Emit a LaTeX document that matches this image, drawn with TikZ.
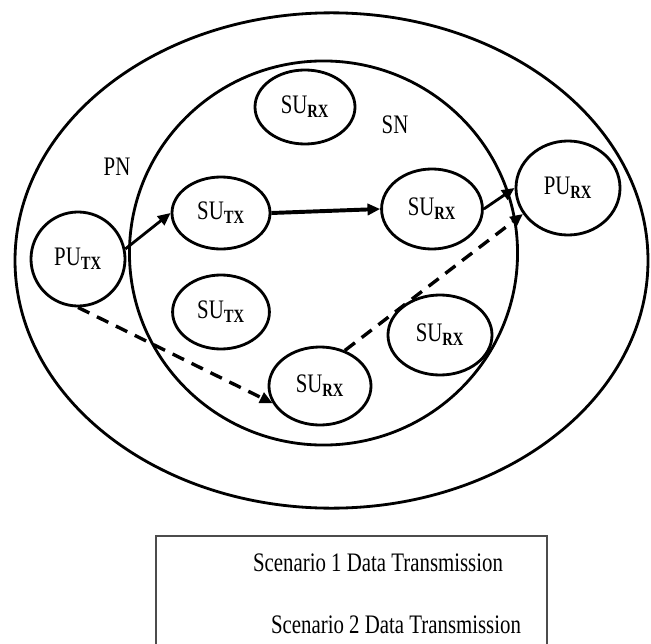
\documentclass[tikz,border=0pt]{standalone}
\usepackage{fontspec}
\setmainfont{Liberation Serif}[FakeStretch=0.78]
\usetikzlibrary{shapes.geometric,arrows.meta}

\newcommand{\lowtag}[1]{\textsubscript{\textbf{#1}}}

\tikzset{
    net/.style={line width=2pt},
    usr/.style={draw, ellipse, line width=2pt, inner sep=0pt, font=\fontsize{19}{21}\selectfont},
    lbl/.style={font=\fontsize{19}{21}\selectfont},
    tx/.style={line width=2pt, -{Triangle[length=9pt,width=8pt]}},
    txd/.style={tx, line width=2.4pt, dash pattern=on 9pt off 6pt},
}

\begin{document}
\begin{tikzpicture}[x=0.025cm, y=-0.025cm]
        \useasboundingbox (0,0) rectangle (651,644);

        % Redes PN y SN
        \draw[net] (331.5,260.5) ellipse [x radius=7.91cm, y radius=6.19cm];
        \draw[net] (323.5,253) ellipse [x radius=4.85cm, y radius=4.8cm];
        \node[lbl] (pn) at (117,167) {PN};
        \node[lbl] (sn) at (395,125) {SN};

        % Usuarios
        \foreach \nm/\x/\y/\w/\h/\val in {
            putx/78/259/2.35/2.35/PU\lowtag{TX},
            sutx1/221/213/2.45/1.8/SU\lowtag{TX},
            sutx2/221/312/2.42/1.85/SU\lowtag{TX},
            surx0/305/107/2.5/1.85/SU\lowtag{RX},
            surx1/432/209/2.52/2.0/SU\lowtag{RX},
            surx2/440/335/2.6/2.0/SU\lowtag{RX},
            surx3/320/386/2.55/1.95/SU\lowtag{RX},
            purx/568/188/2.6/2.35/PU\lowtag{RX}
            } {
            \node[usr, minimum width=\w cm, minimum height=\h cm] (\nm) at (\x,\y) {\val};
        }

        % Escenario 1
        \draw[tx] (putx.12) -- (sutx1.west);
        \draw[tx, line width=2.8pt] (sutx1.east) -- (surx1.west);
        \draw[tx] (surx1.east) -- (purx.west);

        % Escenario 2
        \draw[txd] (putx.south) -- (surx3.200);
        \draw[txd] (surx3.55) -- (purx.210);

        % Leyenda
        \draw[draw=black!70, line width=0.8pt] (156,660) |- (547,536) -- (547,660);
        \node[lbl] (sc1) at (378,563) {Scenario 1 Data Transmission};
        \node[lbl] (sc2) at (396,625) {Scenario 2 Data Transmission};
    \end{tikzpicture}
\end{document}
